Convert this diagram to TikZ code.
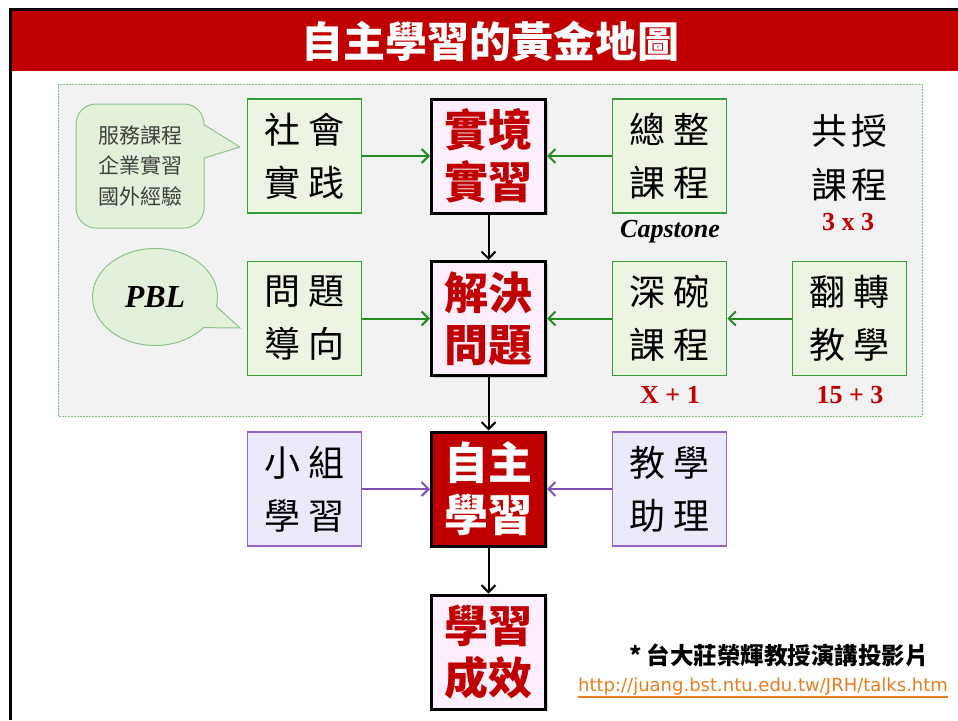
\documentclass[tikz,border=0pt]{standalone}
\usepackage{fontspec}
\usetikzlibrary{
		positioning,
		arrows.meta,
		shadows,
		shapes.geometric,
		shapes.callouts
	}
\newfontfamily\cjk{Noto Sans CJK TC}
\newfontfamily\serif{Liberation Serif}
\newfontfamily\urlfont{DejaVu Sans}
\definecolor{headred}{RGB}{192,0,0}
\definecolor{zonefill}{RGB}{242,242,242}
\definecolor{zoneline}{RGB}{125,195,125}
\definecolor{boxgreen}{RGB}{58,155,58}
\definecolor{greenfill}{RGB}{236,244,226}
\definecolor{arrowgreen}{RGB}{34,139,34}
\definecolor{pinkfill}{RGB}{253,238,252}
\definecolor{boxpurple}{RGB}{150,100,200}
\definecolor{purplefill}{RGB}{234,234,250}
\definecolor{arrowpurple}{RGB}{128,80,180}
\definecolor{notefill}{RGB}{228,241,218}
\definecolor{noteline}{RGB}{140,195,140}
\definecolor{notetext}{RGB}{64,64,64}
\definecolor{urlorange}{RGB}{232,125,30}
\tikzset{
		>={Straight Barb[length=7pt,width=14pt]},
		basebox/.style={minimum width=114pt, minimum height=114pt, inner sep=0pt, align=center},
		greenbox/.style={basebox, draw=boxgreen, line width=1.8pt, fill=greenfill, font=\cjk\fontsize{36}{53}\selectfont},
		purplebox/.style={basebox, draw=boxpurple, line width=1.8pt, fill=purplefill, font=\cjk\fontsize{36}{53}\selectfont},
		keybox/.style={basebox, draw=black, line width=3pt, fill=pinkfill, text=headred, font=\cjk\bfseries\fontsize{44}{52}\selectfont, drop shadow={opacity=.35}},
		note/.style={fill=notefill, draw=noteline, line width=1pt},
		redlabel/.style={text=headred, font=\serif\bfseries\fontsize{26}{26}\selectfont},
		flow/.style={->, line width=2pt}
	}

\begin{document}
\begin{tikzpicture}[x=1pt, y=-1pt] % one unit = one pixel of the slide, y grows downwards
		\useasboundingbox (0,0) rectangle (958,720);
		% slide frame and title bar
		\fill[headred] (10,11) rectangle (958,71);
		\draw[black, line width=3pt] (10.5,720) -- (10.5,9.5) -- (958,9.5);
		\node[font=\cjk\bfseries\fontsize{42}{42}\selectfont, text=white] (title) at (490,41) {自主學習的黃金地圖};
		% grey zone round the two upper rows
		\draw[fill=zonefill, draw=zoneline, line width=1pt, dash pattern=on 2pt off 1pt] (58,84) rectangle (922,416);
		% main column
		\node[keybox] (shijing) at (488.5,156) {實境\\實習};
		\node[keybox] (jiejue) at (488.5,318.5) {解決\\問題};
		\node[keybox, fill=headred, text=white] (zizhu) at (488.5,489) {自主\\學習};
		\node[keybox] (chengxiao) at (488.5,652) {學習\\成效};
		% side boxes
		\node[greenbox] (shehui) at (304.5,156) {社\hspace{8pt}會\\實\hspace{8pt}践};
		\node[greenbox] (zongzheng) at (669.5,156) {總\hspace{8pt}整\\課\hspace{8pt}程};
		\node[greenbox] (wenti) at (304.5,318.5) {問\hspace{8pt}題\\導\hspace{8pt}向};
		\node[greenbox] (shenwan) at (669.5,318.5) {深\hspace{8pt}碗\\課\hspace{8pt}程};
		\node[greenbox] (fanzhuan) at (849.5,318.5) {翻\hspace{8pt}轉\\教\hspace{8pt}學};
		\node[purplebox] (xiaozu) at (304.5,489) {小\hspace{8pt}組\\學\hspace{8pt}習};
		\node[purplebox] (zhuli) at (669.5,489) {教\hspace{8pt}學\\助\hspace{8pt}理};
		\node[font=\cjk\fontsize{36}{54}\selectfont, align=center] (gongshou) at (849,158) {共\hspace{4pt}授\\課\hspace{4pt}程};
		% small labels
		\node[font=\serif\bfseries\itshape\fontsize{26}{26}\selectfont] (capstone) at (670,232) {Capstone};
		\node[redlabel] (threes) at (848,222) {3 x 3};
		\node[redlabel] (xplus) at (670,395) {X + 1};
		\node[redlabel] (fifteen) at (850,395) {15 + 3};
		% speech bubbles
		\node[note, rounded corners=20pt, minimum width=128pt, minimum height=124pt, align=center, text=notetext,
			font=\cjk\fontsize{21}{30.5}\selectfont] (svc) at (140,166) {服務課程\\企業實習\\國外經驗};
		\coordinate (svctip) at (240,147);
		\fill[notefill] ([yshift=41pt,xshift=-2pt]svc.east) -- (svctip) -- ([yshift=8pt,xshift=-2pt]svc.east) -- cycle;
		\draw[noteline, line width=1pt, line join=round] ([yshift=41pt]svc.east) -- (svctip) -- ([yshift=8pt]svc.east);
		\coordinate (pbltip) at (240,328);
		\node[note, ellipse callout, callout absolute pointer={(pbltip)}, callout pointer arc=28,
			minimum width=125pt, minimum height=97pt, font=\serif\bfseries\itshape\fontsize{32}{32}\selectfont] (pbl) at (155,297) {PBL};
		% connectors
		\foreach \a/\b in {shijing/jiejue, jiejue/zizhu, zizhu/chengxiao}
			\draw[flow] (\a) -- (\b);
		\foreach \a/\b in {shehui/shijing, zongzheng/shijing, wenti/jiejue, shenwan/jiejue, fanzhuan/shenwan}
			\draw[flow, arrowgreen] (\a) -- (\b);
		\foreach \a/\b in {xiaozu/zizhu, zhuli/zizhu}
			\draw[flow, arrowpurple] (\a) -- (\b);
		% source
		\node[font=\cjk\bfseries\fontsize{23.5}{23.5}\selectfont] (credit) at (779,655) {* 台大莊榮輝教授演講投影片};
		\node[font=\urlfont\fontsize{18}{18}\selectfont, text=urlorange, inner sep=0pt] (url) at (763,687) {http://juang.bst.ntu.edu.tw/JRH/talks.htm};
		\draw[urlorange, line width=1.5pt] ([yshift=-1pt]url.south west) -- ([yshift=-1pt]url.south east);
	\end{tikzpicture}
\end{document}
